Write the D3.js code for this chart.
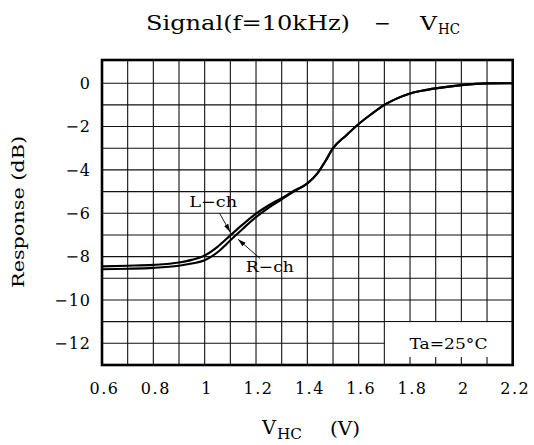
<!DOCTYPE html>
<html><head><meta charset="utf-8">
<script src="https://cdn.jsdelivr.net/npm/d3@7"></script>
<style>body{margin:0;background:#fff}text{font-family:"DejaVu Serif",serif;fill:#000}</style>
</head><body><svg id="c" width="534" height="445"></svg>
<script>
// ---- data ----
const volts = [0.6,0.7,0.8,0.9,0.95,1.0,1.05,1.1,1.15,1.2,1.25,1.3,1.35,1.4,1.44,1.47,1.5,1.55,1.6,1.65,1.7,1.75,1.8,1.85,1.9,2.0,2.1,2.2];
const lch   = [-8.45,-8.42,-8.38,-8.27,-8.15,-7.95,-7.55,-7.02,-6.5,-6.02,-5.63,-5.3,-4.95,-4.62,-4.15,-3.6,-3.0,-2.42,-1.88,-1.42,-1.0,-0.7,-0.47,-0.34,-0.24,-0.09,-0.01,0];
const rch   = [-8.58,-8.56,-8.52,-8.42,-8.32,-8.17,-7.8,-7.25,-6.7,-6.18,-5.74,-5.36,-4.98,-4.63,-4.15,-3.6,-3.0,-2.42,-1.88,-1.42,-1.0,-0.7,-0.47,-0.34,-0.24,-0.09,-0.01,0];
const xTicks = [0.6,0.8,1.0,1.2,1.4,1.6,1.8,2.0,2.2];
const yTicks = [0,-2,-4,-6,-8,-10,-12];
const xGridVals = d3.range(6,23).map(d=>d/10);
const yGridVals = d3.range(-12,1);
const boxTicks = [1.8,1.9,2.0,2.1];
// annotations in data units
const annL = {text:"L−ch", v:1.033, db:-5.71, fv:1.058, fdb:-6.0, tv:1.099, tdb:-6.86};
const annR = {text:"R−ch", v:1.254, db:-8.7, fv:1.215, fdb:-8.08, tv:1.13, tdb:-7.2};

const svg = d3.select("#c");
const L=102, R=512.7, T=60, B=365;
const x = d3.scaleLinear([0.6,2.2],[L,R]);
const y = d3.scaleLinear([-13,1.07],[B,T]);

// grid
const g = svg.append("g");
g.selectAll(".vx").data(xGridVals).join("line")
  .attr("x1",d=>x(d)).attr("x2",d=>x(d)).attr("y1",T).attr("y2",B)
  .attr("stroke","#111").attr("stroke-width",1.1);
g.selectAll(".hy").data(yGridVals).join("line")
  .attr("x1",L).attr("x2",R).attr("y1",d=>y(d)).attr("y2",d=>y(d))
  .attr("stroke","#111").attr("stroke-width",1.1);

// Ta box
svg.append("rect").attr("x",x(1.7)+0.6).attr("y",y(-11)+0.6)
  .attr("width",x(2.2)-x(1.7)-0.6).attr("height",y(-13)-y(-11)-0.6).attr("fill","#fff");
svg.selectAll(".bt").data(boxTicks).join("line")
  .attr("x1",d=>x(d)).attr("x2",d=>x(d)).attr("y1",B).attr("y2",B-8)
  .attr("stroke","#111").attr("stroke-width",1.1);
svg.append("text").attr("x",(x(1.7)+x(2.2))/2).attr("y",y(-12)+6)
  .attr("text-anchor","middle").attr("font-size",15)
  .attr("textLength",78).attr("lengthAdjust","spacingAndGlyphs").text("Ta=25°C");

// curves
const line = d3.line().x((d,i)=>x(volts[i])).y(d=>y(d)).curve(d3.curveMonotoneX);
[lch,rch].forEach(s=>{
  svg.append("path").attr("d",line(s)).attr("fill","none")
    .attr("stroke","#000").attr("stroke-width",2.1);
});

// frame
svg.append("rect").attr("x",L).attr("y",T).attr("width",R-L).attr("height",B-T)
  .attr("fill","none").attr("stroke","#000").attr("stroke-width",2.6);

// axes labels
const xa = svg.append("g").attr("transform",`translate(0,${B})`)
  .call(d3.axisBottom(x).tickValues(xTicks).tickSize(0).tickPadding(0).tickFormat(d3.format("")));
xa.select(".domain").remove();
xa.selectAll("text").attr("font-size",16).attr("dy",0).attr("y",29).attr("dx",2)
  .attr("letter-spacing",1.5).attr("font-family","DejaVu Serif").attr("fill","#000");
const ya = svg.append("g").attr("transform",`translate(${L},0)`)
  .call(d3.axisLeft(y).tickValues(yTicks).tickSize(0).tickPadding(11).tickFormat(d3.format("")));
ya.select(".domain").remove();
ya.selectAll("text").attr("font-size",16).attr("letter-spacing",1)
  .attr("font-family","DejaVu Serif").attr("fill","#000");

// markers
svg.append("defs").append("marker").attr("id","ah").attr("viewBox","0 0 10 6")
  .attr("refX",10).attr("refY",3).attr("markerWidth",8).attr("markerHeight",5)
  .attr("markerUnits","userSpaceOnUse").attr("orient","auto")
  .append("path").attr("d","M0,0L10,3L0,6z").attr("fill","#000");

[annL,annR].forEach(a=>{
  svg.append("line").attr("x1",x(a.fv)).attr("y1",y(a.fdb)).attr("x2",x(a.tv)).attr("y2",y(a.tdb))
    .attr("stroke","#000").attr("stroke-width",0.9).attr("marker-end","url(#ah)");
  svg.append("text").attr("x",x(a.v)).attr("y",y(a.db)).attr("text-anchor","middle")
    .attr("font-size",15).attr("textLength",48).attr("lengthAdjust","spacingAndGlyphs").text(a.text);
});

// titles
svg.append("text").attr("x",146).attr("y",30).attr("font-size",20)
  .attr("textLength",204).attr("lengthAdjust","spacingAndGlyphs").text("Signal(f=10kHz)");
svg.append("text").attr("x",374).attr("y",30).attr("font-size",20).text("−");
svg.append("text").attr("x",420).attr("y",30).attr("font-size",19)
  .attr("textLength",17).attr("lengthAdjust","spacingAndGlyphs").text("V");
svg.append("text").attr("x",438).attr("y",34).attr("font-size",14)
  .attr("textLength",22).attr("lengthAdjust","spacingAndGlyphs").text("HC");

svg.append("text").attr("x",262).attr("y",434).attr("font-size",18)
  .attr("textLength",14).attr("lengthAdjust","spacingAndGlyphs").text("V");
svg.append("text").attr("x",277).attr("y",439).attr("font-size",14)
  .attr("textLength",25).attr("lengthAdjust","spacingAndGlyphs").text("HC");
svg.append("text").attr("x",330).attr("y",435).attr("font-size",18)
  .attr("textLength",30).attr("lengthAdjust","spacingAndGlyphs").text("(V)");

svg.append("text").attr("transform","translate(24,212) rotate(-90)")
  .attr("text-anchor","middle").attr("font-size",16)
  .attr("textLength",152).attr("lengthAdjust","spacingAndGlyphs").text("Response (dB)");
</script></body></html>
